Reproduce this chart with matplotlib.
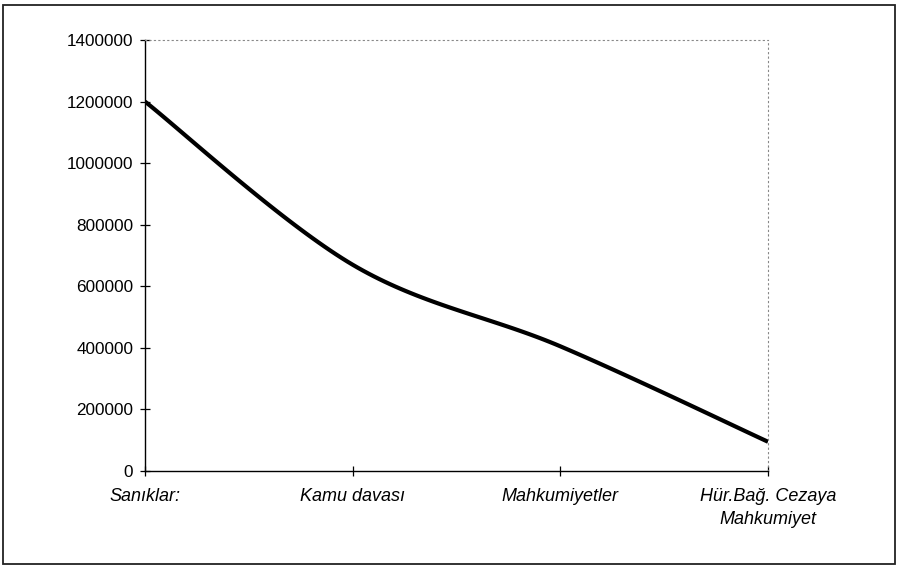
import numpy as np
import matplotlib
matplotlib.use("Agg")
import matplotlib.pyplot as plt
from matplotlib.patches import Rectangle

categories = ["Sanıklar:", "Kamu davası", "Mahkumiyetler", "Hür.Bağ. Cezaya\nMahkumiyet"]
values = [1200000, 670000, 405000, 95000]
yticks = [0, 200000, 400000, 600000, 800000, 1000000, 1200000, 1400000]


def smooth(x, y, n=40):
    # excel-like smoothing: catmull-rom through the points
    x = np.asarray(x, float)
    y = np.asarray(y, float)
    px = np.concatenate([[x[0]], x, [x[-1]]])
    py = np.concatenate([[y[0]], y, [y[-1]]])
    xs, ys = [], []
    t = np.linspace(0, 1, n)
    for i in range(1, len(px) - 2):
        for p, out in ((px, xs), (py, ys)):
            p0, p1, p2, p3 = p[i - 1], p[i], p[i + 1], p[i + 2]
            c1 = p1 + (p2 - p0) / 6
            c2 = p2 - (p3 - p1) / 6
            out.extend((1 - t) ** 3 * p1 + 3 * (1 - t) ** 2 * t * c1
                       + 3 * (1 - t) * t ** 2 * c2 + t ** 3 * p2)
    return np.array(xs), np.array(ys)


plt.rcParams['font.family'] = ['Liberation Sans', 'DejaVu Sans']

fig = plt.figure(figsize=(9, 5.69), dpi=100)
ax = fig.add_axes([145 / 900, 98 / 569, 623 / 900, 431 / 569])

xpos = np.arange(len(categories))
sx, sy = smooth(xpos, values)
ax.plot(sx, sy, color='black', lw=3, solid_capstyle='butt')

ax.set_xlim(0, len(categories) - 1)
ax.set_ylim(0, 1400000)
ax.set_yticks(yticks)
ax.set_yticklabels([str(v) for v in yticks], fontsize=12.3)
ax.set_xticks(xpos)
ax.set_xticklabels(categories, fontsize=13, style='italic', linespacing=1.45)

ax.tick_params(axis='both', direction='inout', length=7, width=0.9, color='black')
ax.tick_params(axis='y', pad=5)
ax.tick_params(axis='x', pad=9)

for s in ('left', 'bottom'):
    ax.spines[s].set_color('black')
    ax.spines[s].set_linewidth(1.0)
for s in ('top', 'right'):
    ax.spines[s].set_color('#888888')
    ax.spines[s].set_linewidth(0.8)
    ax.spines[s].set_linestyle((0, (1, 3)))

fig.patches.append(Rectangle((3 / 900, 5 / 569), 892 / 900, 559 / 569,
                             transform=fig.transFigure, fill=False,
                             edgecolor='#222222', lw=1.3))

fig.savefig('out.png', dpi=100)
